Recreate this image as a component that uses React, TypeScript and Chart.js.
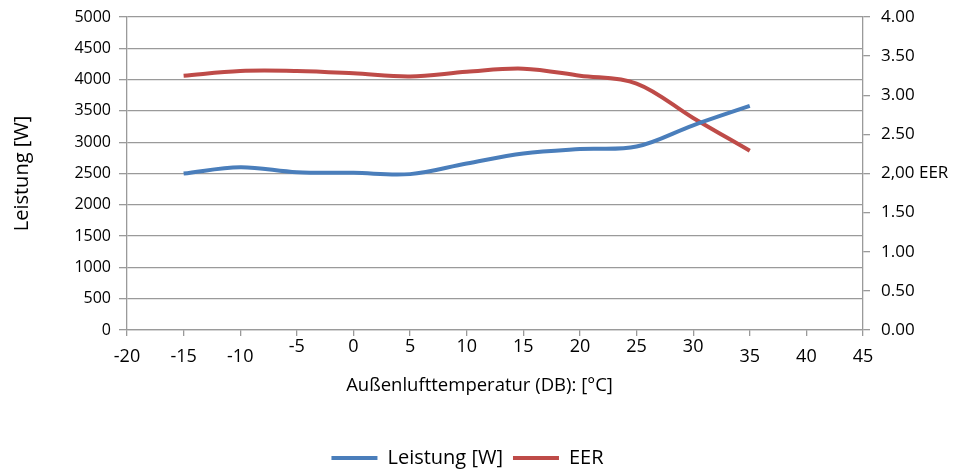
import React, { useEffect, useRef } from "react";
import { Chart, registerables } from "chart.js";

Chart.register(...registerables);

// ---- data ----
const temperatures = [-15, -10, -5, 0, 5, 10, 15, 20, 25, 30, 35];
const leistung = [2500, 2600, 2520, 2510, 2490, 2660, 2820, 2890, 2930, 3270, 3580];
const eer = [3.25, 3.31, 3.31, 3.28, 3.24, 3.3, 3.34, 3.25, 3.15, 2.71, 2.29];
const lowRowTicks = [-20, -15, -10, 35, 40, 45];

const FONT = "'Open Sans', 'DejaVu Sans', sans-serif";
const GRID = "#9a9a9a";
const BLUE = "#4a7ebb";
const RED = "#be4b48";

const xLabelsPlugin = {
  id: "xLabels",
  afterLayout(chart: any) {
    if (chart.legend) {
      chart.legend.left -= 12;
      chart.legend.right -= 12;
    }
  },
  afterDraw(chart: any) {
    const s = chart.scales.x;
    const ctx = chart.ctx;
    ctx.save();
    ctx.font = `18px ${FONT}`;
    ctx.fillStyle = "#000";
    ctx.textAlign = "center";
    ctx.textBaseline = "middle";
    s.ticks.forEach((t: any) => {
      const x = s.getPixelForValue(t.value);
      const y = chart.chartArea.bottom + (lowRowTicks.includes(t.value) ? 26.5 : 17);
      ctx.fillText(String(t.value), x, y);
    });
    ctx.restore();
  },
};

const noVPad = (s: any) => {
  s.paddingTop = 0;
  s.paddingBottom = 0;
};

export default function App() {
  const ref = useRef<HTMLCanvasElement | null>(null);
  useEffect(() => {
    if (!ref.current) return;
    const chart = new Chart(ref.current, {
      type: "line",
      data: {
        datasets: [
          {
            label: "Leistung [W]",
            data: temperatures.map((t, i) => ({ x: t, y: leistung[i] })),
            borderColor: BLUE,
            backgroundColor: BLUE,
            borderWidth: 4,
            pointRadius: 0,
            tension: 0.35,
            yAxisID: "y",
            fill: false,
          },
          {
            label: "EER",
            data: temperatures.map((t, i) => ({ x: t, y: eer[i] })),
            borderColor: RED,
            backgroundColor: RED,
            borderWidth: 4,
            pointRadius: 0,
            tension: 0.35,
            yAxisID: "y2",
            fill: false,
          },
        ],
      },
      options: {
        animation: false,
        responsive: true,
        maintainAspectRatio: false,
        layout: { padding: { top: 17, bottom: -3, left: 0, right: 0 } },
        font: { family: FONT },
        color: "#000",
        scales: {
          x: {
            type: "linear",
            min: -20,
            max: 45,
            ticks: { stepSize: 5, color: "rgba(0,0,0,0)", font: { size: 16, family: FONT } },
            grid: { drawOnChartArea: false, drawTicks: true, tickLength: 6, color: GRID, lineWidth: 1.3 },
            border: { color: GRID, width: 1.3 },
            afterFit: (s: any) => {
              s.height = 45;
              s.paddingLeft = 0;
              s.paddingRight = 0;
            },
          },
          y: {
            position: "left",
            min: 0,
            max: 5000,
            ticks: {
              stepSize: 500,
              color: "#000",
              padding: 8,
              font: { size: 16, family: FONT },
              callback: (v: any) => String(v),
            },
            grid: { color: GRID, lineWidth: 1.3, tickLength: 8 },
            border: { color: GRID, width: 1.3 },
            title: {
              display: true,
              text: "Leistung [W]",
              color: "#000",
              font: { size: 20, family: FONT },
              padding: { top: 10, bottom: 0 },
            },
            afterFit: (s: any) => {
              s.width = 127;
              noVPad(s);
            },
          },
          y2: {
            position: "right",
            min: 0,
            max: 4,
            ticks: {
              stepSize: 0.5,
              color: "#000",
              padding: 11,
              font: { size: 17, family: FONT },
              callback: (v: any) => (Number(v) === 2 ? "2,00 EER" : Number(v).toFixed(2)),
            },
            grid: { drawOnChartArea: false, color: GRID, lineWidth: 1.3, tickLength: 7 },
            border: { color: GRID, width: 1.3 },
            afterFit: (s: any) => {
              s.width = 96;
              noVPad(s);
            },
          },
        },
        plugins: {
          title: {
            display: true,
            text: "Außenlufttemperatur (DB): [°C]",
            position: "bottom",
            weight: 500,
            color: "#000",
            font: { size: 18.5, family: FONT, weight: "normal" },
            padding: { top: 0, bottom: 40.8 },
          } as any,
          legend: {
            position: "bottom",
            labels: {
              boxWidth: 46,
              boxHeight: 4,
              padding: 10,
              color: "#000",
              font: { size: 20, family: FONT },
              generateLabels: (c: any) =>
                (Chart.defaults.plugins.legend.labels.generateLabels as any)(c).map((l: any) => ({
                  ...l,
                  fillStyle: l.strokeStyle,
                  lineWidth: 0,
                })),
            },
          },
          tooltip: { enabled: false },
        },
      },
      plugins: [xLabelsPlugin],
    } as any);
    return () => chart.destroy();
  }, []);
  return (
    <div style={{ position: "fixed", left: 0, top: 0, width: 959, height: 475, background: "#fff" }}>
      <canvas ref={ref} />
    </div>
  );
}
